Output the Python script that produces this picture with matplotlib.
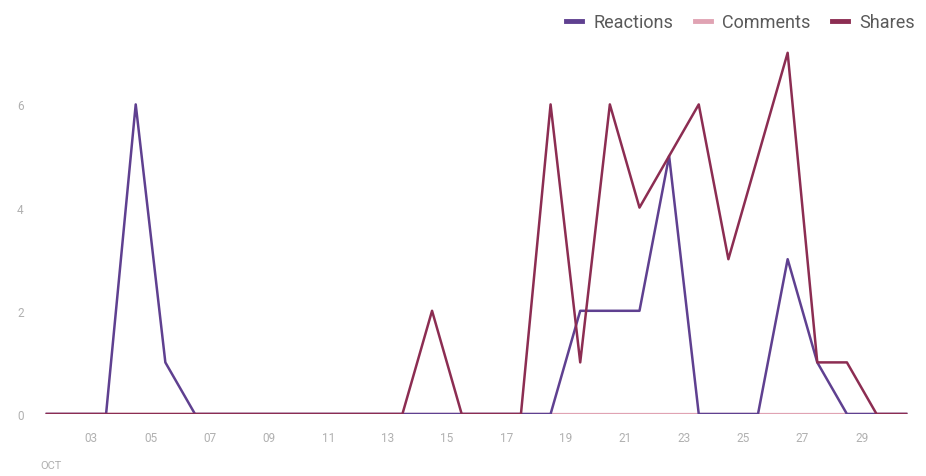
import matplotlib
matplotlib.use("Agg")
import matplotlib.pyplot as plt
from matplotlib.lines import Line2D

# daily counts, Oct 1 - Oct 30
days = list(range(1, 31))
reactions = [0, 0, 0, 6, 1, 0, 0, 0, 0, 0,
             0, 0, 0, 0, 0, 0, 0, 0, 2, 2,
             2, 5, 0, 0, 0, 3, 1, 0, 0, 0]
comments = [0] * 30
shares = [0, 0, 0, 0, 0, 0, 0, 0, 0, 0,
          0, 0, 0, 2, 0, 0, 0, 6, 1, 6,
          4, 5, 6, 3, 5, 7, 1, 1, 0, 0]

tick_days = list(range(3, 30, 2))
tick_labels = ["%02d" % d for d in tick_days]
y_ticks = [0, 2, 4, 6]

colors = {"Reactions": "#5f4090", "Comments": "#e0a3b3", "Shares": "#8c2d52"}

plt.rcParams["font.family"] = ["Roboto", "DejaVu Sans"]

fig = plt.figure(figsize=(9.26, 4.77), dpi=100)
# axes from day 1 (x=32px) to day 31, y 0 at 415px
ax = fig.add_axes([32 / 926, 62 / 477, 889 / 926, 376 / 477])

# points are drawn at noon of each day
x = [d + 0.5 for d in days]
ax.plot(x, comments, color=colors["Comments"], lw=1.6, zorder=2)
ax.plot(x, reactions, color=colors["Reactions"], lw=1.8, zorder=3)
ax.plot(x, shares, color=colors["Shares"], lw=1.8, zorder=4)

ax.set_xlim(1, 31)
ax.set_ylim(0, 376 / 51.6)

ax.set_xticks(tick_days)
ax.set_xticklabels(tick_labels)
ax.set_yticks(y_ticks)
ax.tick_params(axis="both", length=0, labelsize=8.5, colors="#b0b0b0")
ax.tick_params(axis="x", pad=12)
for lab in ax.get_yticklabels():
    lab.set_horizontalalignment("center")
    lab.set_x(-0.0075)

for s in ax.spines.values():
    s.set_visible(False)

fig.text(40 / 926, 1 - 466 / 477, "OCT", fontsize=8, color="#b0b0b0",
         va="center", ha="left")

handles = [Line2D([0], [0], color=colors[k], lw=3.5) for k in colors]
leg = fig.legend(handles, list(colors.keys()), loc="upper right",
                 bbox_to_anchor=(1.005, 1.005), ncol=3, frameon=False,
                 fontsize=13, handlelength=0.9, handletextpad=0.6,
                 columnspacing=1.2)
for t in leg.get_texts():
    t.set_color("#5a5a5a")

fig.savefig("out.png", dpi=100)
